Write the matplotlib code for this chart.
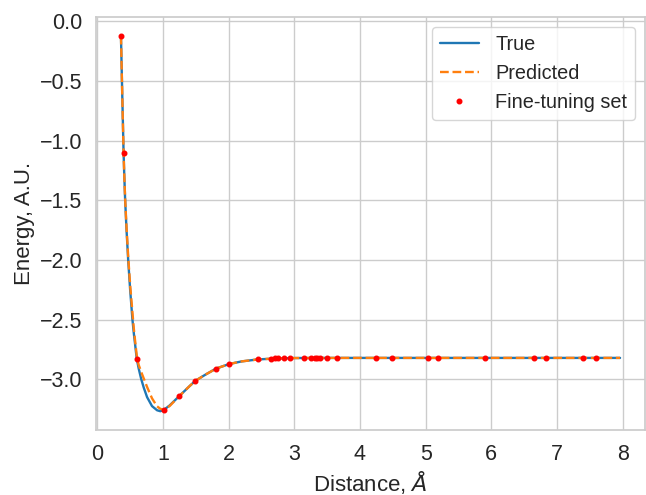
import numpy as np
import seaborn as sns
from matplotlib import pyplot as plt
from matplotlib.ticker import MultipleLocator

# curves
true_x = [0.36, 0.38, 0.40, 0.41, 0.424, 0.445, 0.47, 0.50, 0.535, 0.555, 0.576,
          0.60, 0.63, 0.667, 0.707, 0.758, 0.833, 0.91, 0.96, 1.01, 1.10, 1.25,
          1.40, 1.49, 1.65, 1.81, 2.01, 2.20, 2.44, 2.70, 3.00, 3.50, 4.00, 5.00,
          6.00, 7.00, 7.96]
true_y = [-0.12, -0.62, -1.10, -1.28, -1.50, -1.75, -2.00, -2.25, -2.50, -2.61,
          -2.71, -2.826, -2.91, -2.995, -3.07, -3.15, -3.225, -3.26, -3.268,
          -3.258, -3.22, -3.14, -3.06, -3.014, -2.96, -2.91, -2.872, -2.85,
          -2.834, -2.826, -2.822, -2.821, -2.821, -2.821, -2.821, -2.821, -2.821]

pred_x = [0.36, 0.38, 0.40, 0.41, 0.424, 0.445, 0.47, 0.50, 0.535, 0.555, 0.576,
          0.60, 0.63, 0.68, 0.758, 0.833, 0.91, 0.96, 1.01, 1.10, 1.25, 1.40,
          1.49, 1.65, 1.81, 2.01, 2.20, 2.44, 2.70, 3.00, 3.50, 4.00, 5.00, 6.00,
          7.00, 7.96]
pred_y = [-0.12, -0.62, -1.10, -1.28, -1.49, -1.73, -1.97, -2.21, -2.44, -2.57,
          -2.68, -2.80, -2.88, -2.955, -3.065, -3.16, -3.227, -3.248, -3.255,
          -3.225, -3.14, -3.06, -3.014, -2.96, -2.91, -2.872, -2.85, -2.834,
          -2.826, -2.822, -2.821, -2.821, -2.821, -2.821, -2.821, -2.821]

# fine-tuning samples
ft_x = [0.364, 0.404, 0.606, 1.01, 1.25, 1.49, 1.81, 2.01, 2.44, 2.65, 2.70,
        2.75, 2.84, 2.94, 3.14, 3.25, 3.31, 3.35, 3.39, 3.50, 3.65, 4.25, 4.49,
        5.04, 5.19, 5.90, 6.65, 6.84, 7.40, 7.59]
ft_y = [-0.12, -1.10, -2.826, -3.255, -3.14, -3.014, -2.91, -2.87, -2.834,
        -2.826, -2.825, -2.824, -2.823, -2.822, -2.822, -2.821, -2.821, -2.821,
        -2.821, -2.821, -2.821, -2.821, -2.821, -2.821, -2.821, -2.821, -2.821,
        -2.821, -2.821, -2.821]

sns.set_theme(style="whitegrid", font_scale=1.3)
plt.rcParams["font.family"] = ["Liberation Sans", "DejaVu Sans"]

fig, ax = plt.subplots(figsize=(6.46, 4.95), dpi=100)
fig.subplots_adjust(left=96 / 646, right=645 / 646, top=1 - 17 / 495, bottom=1 - 430 / 495)

ax.plot(true_x, true_y, color="tab:blue", linewidth=1.7, label="True")
ax.plot(pred_x, pred_y, "--", color="tab:orange", linewidth=1.7, label="Predicted")
ax.plot(ft_x, ft_y, "o", color="red", markersize=3.3, label="Fine-tuning set")

ax.xaxis.set_major_locator(MultipleLocator(1))
ax.tick_params(labelsize=15.5, pad=4)
ax.set_xlabel(r"Distance, $\AA$", fontsize=16, labelpad=3)
ax.set_ylabel("Energy, A.U.", fontsize=16, labelpad=3)
ax.legend(loc="upper right", fontsize=14.3)

fig.savefig("out.png")
